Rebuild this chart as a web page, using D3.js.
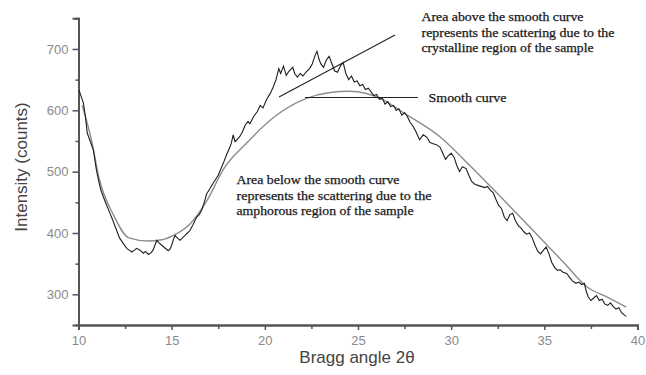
<!DOCTYPE html>
<html><head><meta charset="utf-8">
<script src="https://cdn.jsdelivr.net/npm/d3@7/dist/d3.min.js"></script>
<style>body{margin:0;background:#fff}svg{display:block}</style>
</head><body><svg id="c" width="646" height="375"></svg>
<script>
// ---- data ----
const xTicks = [10, 15, 20, 25, 30, 35, 40];
const xMinorTicks = [12.5, 17.5, 22.5, 27.5, 32.5, 37.5];
const yTicks = [300, 400, 500, 600, 700];
const yMinorTicks = [350, 450, 550, 650, 750];

const noisyAngle = [10.03,10.15,10.26,10.37,10.47,10.6,10.8,10.95,11.06,11.2,11.33,11.5,11.69,11.85,12.05,12.2,12.4,12.59,12.72,12.86,13.0,13.12,13.3,13.48,13.6,13.75,13.9,14.0,14.1,14.2,14.32,14.47,14.62,14.82,14.92,15.0,15.1,15.18,15.3,15.45,15.6,15.72,15.85,15.98,16.15,16.34,16.48,16.61,16.75,16.88,17.05,17.2,17.33,17.5,17.65,17.8,17.95,18.1,18.2,18.3,18.4,18.5,18.65,18.8,18.95,19.1,19.2,19.4,19.6,19.75,19.9,20.1,20.3,20.45,20.6,20.75,20.85,21.0,21.15,21.3,21.5,21.6,21.75,21.9,22.05,22.2,22.4,22.55,22.7,22.8,22.9,23.0,23.15,23.3,23.45,23.6,23.75,23.9,24.05,24.2,24.35,24.5,24.65,24.8,24.95,25.1,25.25,25.4,25.55,25.7,25.85,26.0,26.15,26.3,26.45,26.6,26.75,26.9,27.05,27.2,27.35,27.5,27.65,27.8,27.95,28.1,28.3,28.5,28.7,28.85,29.0,29.2,29.4,29.55,29.7,29.85,30.0,30.15,30.3,30.45,30.6,30.8,30.95,31.1,31.25,31.4,31.6,31.8,31.95,32.1,32.25,32.4,32.55,32.7,32.85,33.0,33.15,33.3,33.45,33.6,33.75,33.9,34.05,34.2,34.35,34.5,34.65,34.8,34.95,35.1,35.25,35.4,35.55,35.7,35.85,36.0,36.2,36.35,36.5,36.7,36.85,37.0,37.15,37.25,37.35,37.5,37.65,37.8,37.95,38.1,38.25,38.4,38.55,38.7,38.85,39.0,39.15,39.3,39.4];
const noisyCounts = [633,622,612,590,563,552,535,505,488,470,459,446,432,420,404,392,383,375,372,369,372,375,372,367,370,365,368,372,380,388,384,380,376,371,374,380,390,396,392,388,393,396,400,404,414,426,430,437,450,464,472,480,486,494,505,516,528,538,546,560,549,552,557,565,576,582,578,590,598,608,604,618,628,638,650,668,660,672,657,664,670,660,654,660,656,662,668,676,690,696,684,676,670,682,688,676,664,662,672,678,660,650,656,646,648,640,642,634,636,630,624,626,618,620,610,614,606,608,600,602,592,596,590,580,574,566,552,560,556,548,546,544,540,530,520,526,530,524,510,500,508,505,494,484,480,478,476,474,476,470,466,455,445,440,426,420,430,432,420,412,408,402,398,400,392,380,370,366,372,377,366,352,344,339,340,336,334,328,322,318,320,316,318,305,296,290,294,298,290,292,284,282,286,280,276,278,270,266,264];

const smoothAngle = [10.2,10.7,11.1,11.9,12.7,13.7,14.5,15.1,16.0,16.9,17.8,19.0,20.5,22.2,23.5,24.5,25.5,26.3,27.5,29.4,31.0,32.3,34.4,36.0,37.3,38.4,39.4];
const smoothCounts = [608,551,490,428,392,387,389,396,415,453,505,546,589,619,629,631,627,618,595,557,510,470,404,353,312,295,279];

const crystPointerAngle = [20.76, 26.99];
const crystPointerCounts = [621.6, 722.9];
const smoothPointerAngle = [22.16, 28.22];
const smoothPointerCounts = [620.8, 620.8];

const noteCryst = ["Area above the smooth curve", "represents the scattering due to the", "crystalline region of the sample"];
const noteAmorph = ["Area below the smooth curve", "represents the scattering due to the", "amphorous region of the sample"];
const noteSmooth = "Smooth curve";

// ---- chart ----
const svg = d3.select("#c");
const x = d3.scaleLinear().domain([10, 40]).range([78.5, 637.5]);
const y = d3.scaleLinear().domain([250, 750]).range([325, 18.3]);
const axisCol = "#555";

// x axis
const gx = svg.append("g").attr("transform", `translate(0,${y(250)})`);
gx.call(d3.axisBottom(x).tickValues(xTicks).tickSize(5).tickPadding(6).tickFormat(d3.format("d")));
gx.append("g").call(d3.axisBottom(x).tickValues(xMinorTicks).tickSize(4).tickFormat(""));
// y axis
const gy = svg.append("g").attr("transform", `translate(${x(10)},0)`);
gy.call(d3.axisLeft(y).tickValues(yTicks).tickSize(6).tickPadding(4).tickFormat(d3.format("d")));
gy.append("g").call(d3.axisLeft(y).tickValues(yMinorTicks).tickSize(3).tickFormat(""));

svg.selectAll(".domain").attr("stroke", axisCol).attr("stroke-width", 2);
svg.selectAll(".tick line").attr("stroke", axisCol).attr("stroke-width", 1.5);
svg.selectAll(".tick text").attr("fill", "#8a8a8a").attr("font-family", "Liberation Sans, Arial, sans-serif").attr("font-size", 13);

// axis titles
svg.append("text").attr("x", 357).attr("y", 363).attr("text-anchor", "middle")
  .attr("font-family", "Liberation Sans, Arial, sans-serif").attr("font-size", 17).attr("fill", "#444")
  .text("Bragg angle 2θ");
svg.append("text").attr("transform", `translate(27,167) rotate(-90)`).attr("text-anchor", "middle")
  .attr("font-family", "Liberation Sans, Arial, sans-serif").attr("font-size", 17).attr("fill", "#444")
  .text("Intensity (counts)");

// curves
const smoothPts = smoothAngle.map((a, i) => [a, smoothCounts[i]]);
const noisyPts = noisyAngle.map((a, i) => [a, noisyCounts[i]]);
svg.append("path").datum(smoothPts)
  .attr("d", d3.line().x(d => x(d[0])).y(d => y(d[1])).curve(d3.curveMonotoneX))
  .attr("fill", "none").attr("stroke", "#8c8c8c").attr("stroke-width", 1.4);
svg.append("path").datum(noisyPts)
  .attr("d", d3.line().x(d => x(d[0])).y(d => y(d[1])))
  .attr("fill", "none").attr("stroke", "#1e1e1e").attr("stroke-width", 1.1);

// pointer lines
svg.append("line").attr("x1", x(crystPointerAngle[0])).attr("y1", y(crystPointerCounts[0]))
  .attr("x2", x(crystPointerAngle[1])).attr("y2", y(crystPointerCounts[1]))
  .attr("stroke", "#222").attr("stroke-width", 1.1);
svg.append("line").attr("x1", x(smoothPointerAngle[0])).attr("y1", y(smoothPointerCounts[0]))
  .attr("x2", x(smoothPointerAngle[1])).attr("y2", y(smoothPointerCounts[1]))
  .attr("stroke", "#222").attr("stroke-width", 1.1);

// notes
function note(lines, x0, y0, widths) {
  lines.forEach((t, i) => {
    svg.append("text").attr("x", x0).attr("y", y0 + i * 15.5)
      .attr("font-family", "Liberation Serif, Times New Roman, serif").attr("font-size", 12)
      .attr("fill", "#1a1a1a").attr("stroke", "#1a1a1a").attr("stroke-width", 0.25)
      .attr("textLength", widths[i]).attr("lengthAdjust", "spacingAndGlyphs")
      .text(t);
  });
}
note(noteCryst, 421.5, 21, [162, 193, 172]);
note(noteAmorph, 236.5, 184, [163, 195, 177]);
note([noteSmooth], 428.5, 102, [78]);
</script></body></html>
